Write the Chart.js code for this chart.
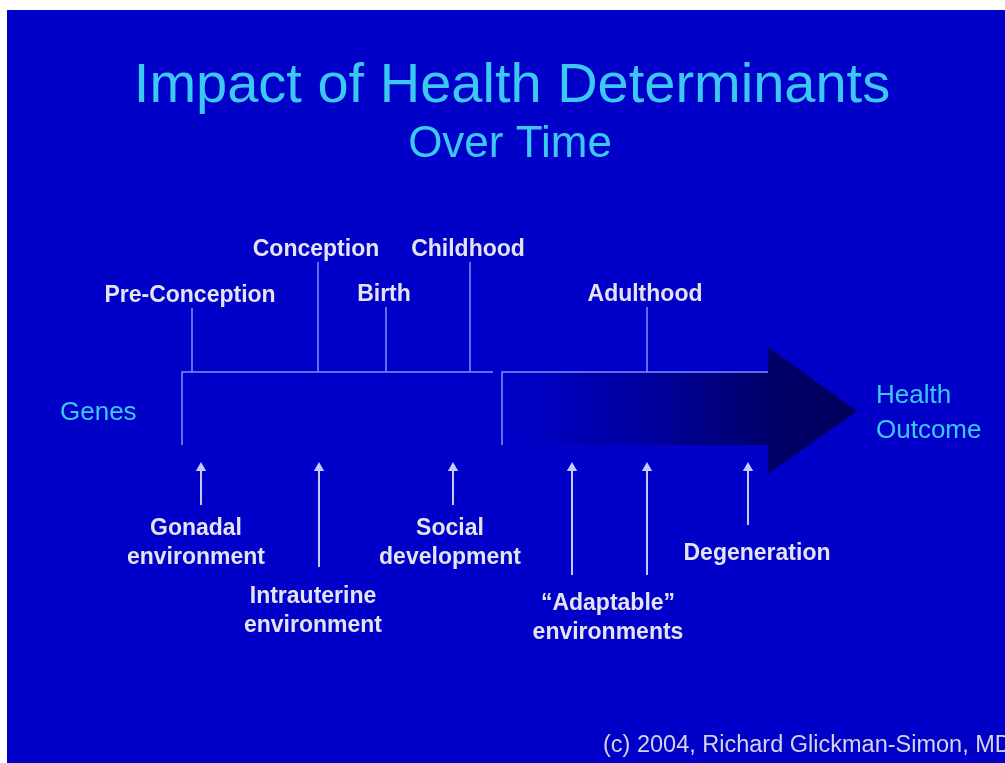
<!DOCTYPE html>
<html>
<head>
<meta charset="utf-8">
<title>Impact of Health Determinants Over Time</title>
<script src="https://cdn.jsdelivr.net/npm/chart.js@4"></script>
<style>
  html, body { margin: 0; padding: 0; background: #fff; }
  #wrap { width: 1005px; height: 763px; }
</style>
</head>
<body>
<div id="wrap"><canvas id="timeline" width="1005" height="763"></canvas></div>
<script>
// life stages marked above the bar (position along the timeline, height of the marker)
const stages = ['Pre-Conception', 'Conception', 'Birth', 'Childhood', 'Adulthood'];
const stageAt = [192, 318, 386, 470, 647];
const stageRise = [64, 110, 65, 110, 65];

// influences pushing up from below
const influenceAt = [201, 319, 453, 572, 647, 748];
const influenceLen = [43, 105, 43, 113, 113, 63];
const influenceText = [
  ['Gonadal', 'environment'],
  ['Intrauterine', 'environment'],
  ['Social', 'development'],
  ['\u201cAdaptable\u201d', 'environments'],
  ['Degeneration']
];
const influenceTextAt = [196, 313, 450, 608, 757];
const influenceTextDrop = [73, 141, 73, 148, 98];

const startLabel = 'Genes';
const endLabel = ['Health', 'Outcome'];

// bar / arrow geometry on the timeline
const barTop = 372, barBottom = 445;
const barStart = 182, splitAt = 493, arrowStart = 502, headAt = 768, tipAt = 857;
const headTop = 347, headBottom = 474, tipY = 411;

const BG = '#0000c8';
const LINE = '#8090ff';
const ARROW = '#c4caff';
const CYAN = '#3cc8f5';
const WHITE = '#e4e4f0';

var datasets = [];

// marker lines above the bar
stageAt.forEach((x, i) => {
  datasets.push({
    data: [{x: x, y: barTop - stageRise[i]}, {x: x, y: barTop}],
    borderColor: LINE, borderWidth: 1.5, pointRadius: 0
  });
});

// up arrows below the bar
influenceAt.forEach((x, i) => {
  datasets.push({
    data: [{x: x, y: 468 + influenceLen[i] - 6}, {x: x, y: 468}],
    borderColor: ARROW, backgroundColor: ARROW, borderWidth: 2,
    pointStyle: 'triangle', pointRadius: [0, 6], pointBorderWidth: 0
  });
});

// outline of the first box and the arrow body
datasets.push({
  data: [{x: barStart, y: barBottom}, {x: barStart, y: barTop}, {x: splitAt, y: barTop}],
  borderColor: LINE, borderWidth: 1.5, pointRadius: 0
});
datasets.push({
  data: [{x: arrowStart, y: barBottom}, {x: arrowStart, y: barTop}, {x: headAt, y: barTop}],
  borderColor: LINE, borderWidth: 1.5, pointRadius: 0
});

function arrowFill(ctx) {
  const chart = ctx.chart;
  if (!chart.chartArea) return '#000070';
  const sx = chart.scales.x;
  const g = chart.ctx.createLinearGradient(sx.getPixelForValue(arrowStart), 0, sx.getPixelForValue(tipAt), 0);
  g.addColorStop(0, BG);
  g.addColorStop(0.12, '#0000c0');
  g.addColorStop(0.45, '#000098');
  g.addColorStop(0.75, '#00006a');
  g.addColorStop(1, '#00005a');
  return g;
}

// upper and lower halves of the big arrow, filled to its centre line
datasets.push({
  data: [{x: arrowStart, y: barTop}, {x: headAt, y: barTop}, {x: headAt, y: headTop}, {x: tipAt, y: tipY}],
  borderWidth: 0, pointRadius: 0, fill: {value: tipY}, backgroundColor: arrowFill
});
datasets.push({
  data: [{x: arrowStart, y: barBottom}, {x: headAt, y: barBottom}, {x: headAt, y: headBottom}, {x: tipAt, y: tipY}],
  borderWidth: 0, pointRadius: 0, fill: {value: tipY}, backgroundColor: arrowFill
});

const slide = {
  id: 'slide',
  beforeDraw(chart) {
    const c = chart.ctx;
    c.save();
    c.fillStyle = '#ffffff';
    c.fillRect(0, 0, chart.width, chart.height);
    c.fillStyle = BG;
    c.fillRect(7, 10, chart.width - 7, chart.height - 10);
    c.restore();
  },
  afterDraw(chart) {
    const c = chart.ctx;
    const px = v => chart.scales.x.getPixelForValue(v);
    const py = v => chart.scales.y.getPixelForValue(v);
    c.save();
    c.textBaseline = 'alphabetic';

    c.fillStyle = CYAN;
    c.textAlign = 'center';
    c.font = '56px "Liberation Sans", Arial, sans-serif';
    c.fillText('Impact of Health Determinants', 512, 102);
    c.font = '44px "Liberation Sans", Arial, sans-serif';
    c.fillText('Over Time', 510, 157);

    c.font = '26px "Liberation Sans", Arial, sans-serif';
    c.textAlign = 'left';
    c.fillText(startLabel, px(60), py(420));
    c.fillText(endLabel[0], px(876), py(403));
    c.fillText(endLabel[1], px(876), py(438));

    c.fillStyle = WHITE;
    c.textAlign = 'center';
    c.font = 'bold 23px "Liberation Sans", Arial, sans-serif';
    stages.forEach((s, i) => {
      c.fillText(s, px(stageAt[i] - 2), py(barTop - stageRise[i] - 6));
    });
    influenceText.forEach((lines, i) => {
      lines.forEach((t, k) => {
        c.fillText(t, px(influenceTextAt[i]), py(462 + influenceTextDrop[i] + k * 29));
      });
    });

    c.fillStyle = '#d4d4e6';
    c.textAlign = 'left';
    c.font = '23.5px "Liberation Sans", Arial, sans-serif';
    c.fillText('(c) 2004, Richard Glickman-Simon, MD', 603, 752);
    c.restore();
  }
};

new Chart(document.getElementById('timeline'), {
  type: 'line',
  data: { datasets: datasets },
  options: {
    responsive: false,
    animation: false,
    layout: { padding: 0, autoPadding: false },
    plugins: { legend: { display: false }, tooltip: { enabled: false }, title: { display: false } },
    scales: {
      x: { type: 'linear', min: 0, max: 1005, display: false },
      y: { type: 'linear', min: 0, max: 763, reverse: true, display: false }
    }
  },
  plugins: [slide]
});
</script>
</body>
</html>
